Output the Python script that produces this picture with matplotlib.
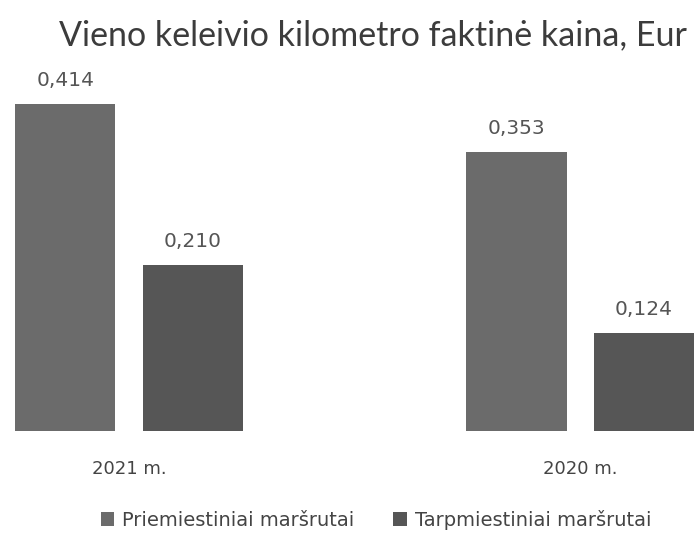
import numpy as np
import matplotlib.pyplot as plt

# Duomenys
years = ['2021 m.', '2020 m.']
series_names = ['Priemiestiniai maršrutai', 'Tarpmiestiniai maršrutai']
prie = [0.414, 0.353]
tarp = [0.210, 0.124]
colors = ['#6b6b6b', '#565656']

fig = plt.figure(figsize=(6.96, 5.35), dpi=100)
ax = fig.add_axes([0, 0.194, 1, 0.665])

x = np.arange(len(years))
w = 0.222
off = 0.141
b1 = ax.bar(x - off, prie, w, color=colors[0], label=series_names[0])
b2 = ax.bar(x + off, tarp, w, color=colors[1], label=series_names[1])

for bars in (b1, b2):
    for r in bars:
        v = r.get_height()
        ax.annotate(f'{v:.3f}'.replace('.', ','),
                    (r.get_x() + r.get_width() / 2, v),
                    xytext=(0, 10), textcoords='offset points',
                    ha='center', va='bottom', fontsize=14.5,
                    family='DejaVu Sans', color='#555555')

ax.set_xlim(-0.286, 1.257)
ax.set_ylim(0, 0.45)
for s in ax.spines.values():
    s.set_visible(False)
ax.set_yticks([])
ax.set_xticks(x)
ax.set_xticklabels(years, fontsize=13, family='DejaVu Sans', color='#444444')
ax.tick_params(axis='x', length=0, pad=21)

fig.text(0.536, 0.935, 'Vieno keleivio kilometro faktinė kaina, Eur',
         ha='center', va='center', fontsize=24.5, family='Lato',
         color='#3c3c3c')

leg = fig.legend(handles=[b1, b2], loc='center', bbox_to_anchor=(0.54, 0.028),
                 ncol=2, frameon=False, handlelength=0.7, handleheight=0.7,
                 handletextpad=0.4, columnspacing=2.0,
                 prop={'family': 'DejaVu Sans', 'size': 14})
for t in leg.get_texts():
    t.set_color('#444444')

fig.savefig('out.png', dpi=100)
